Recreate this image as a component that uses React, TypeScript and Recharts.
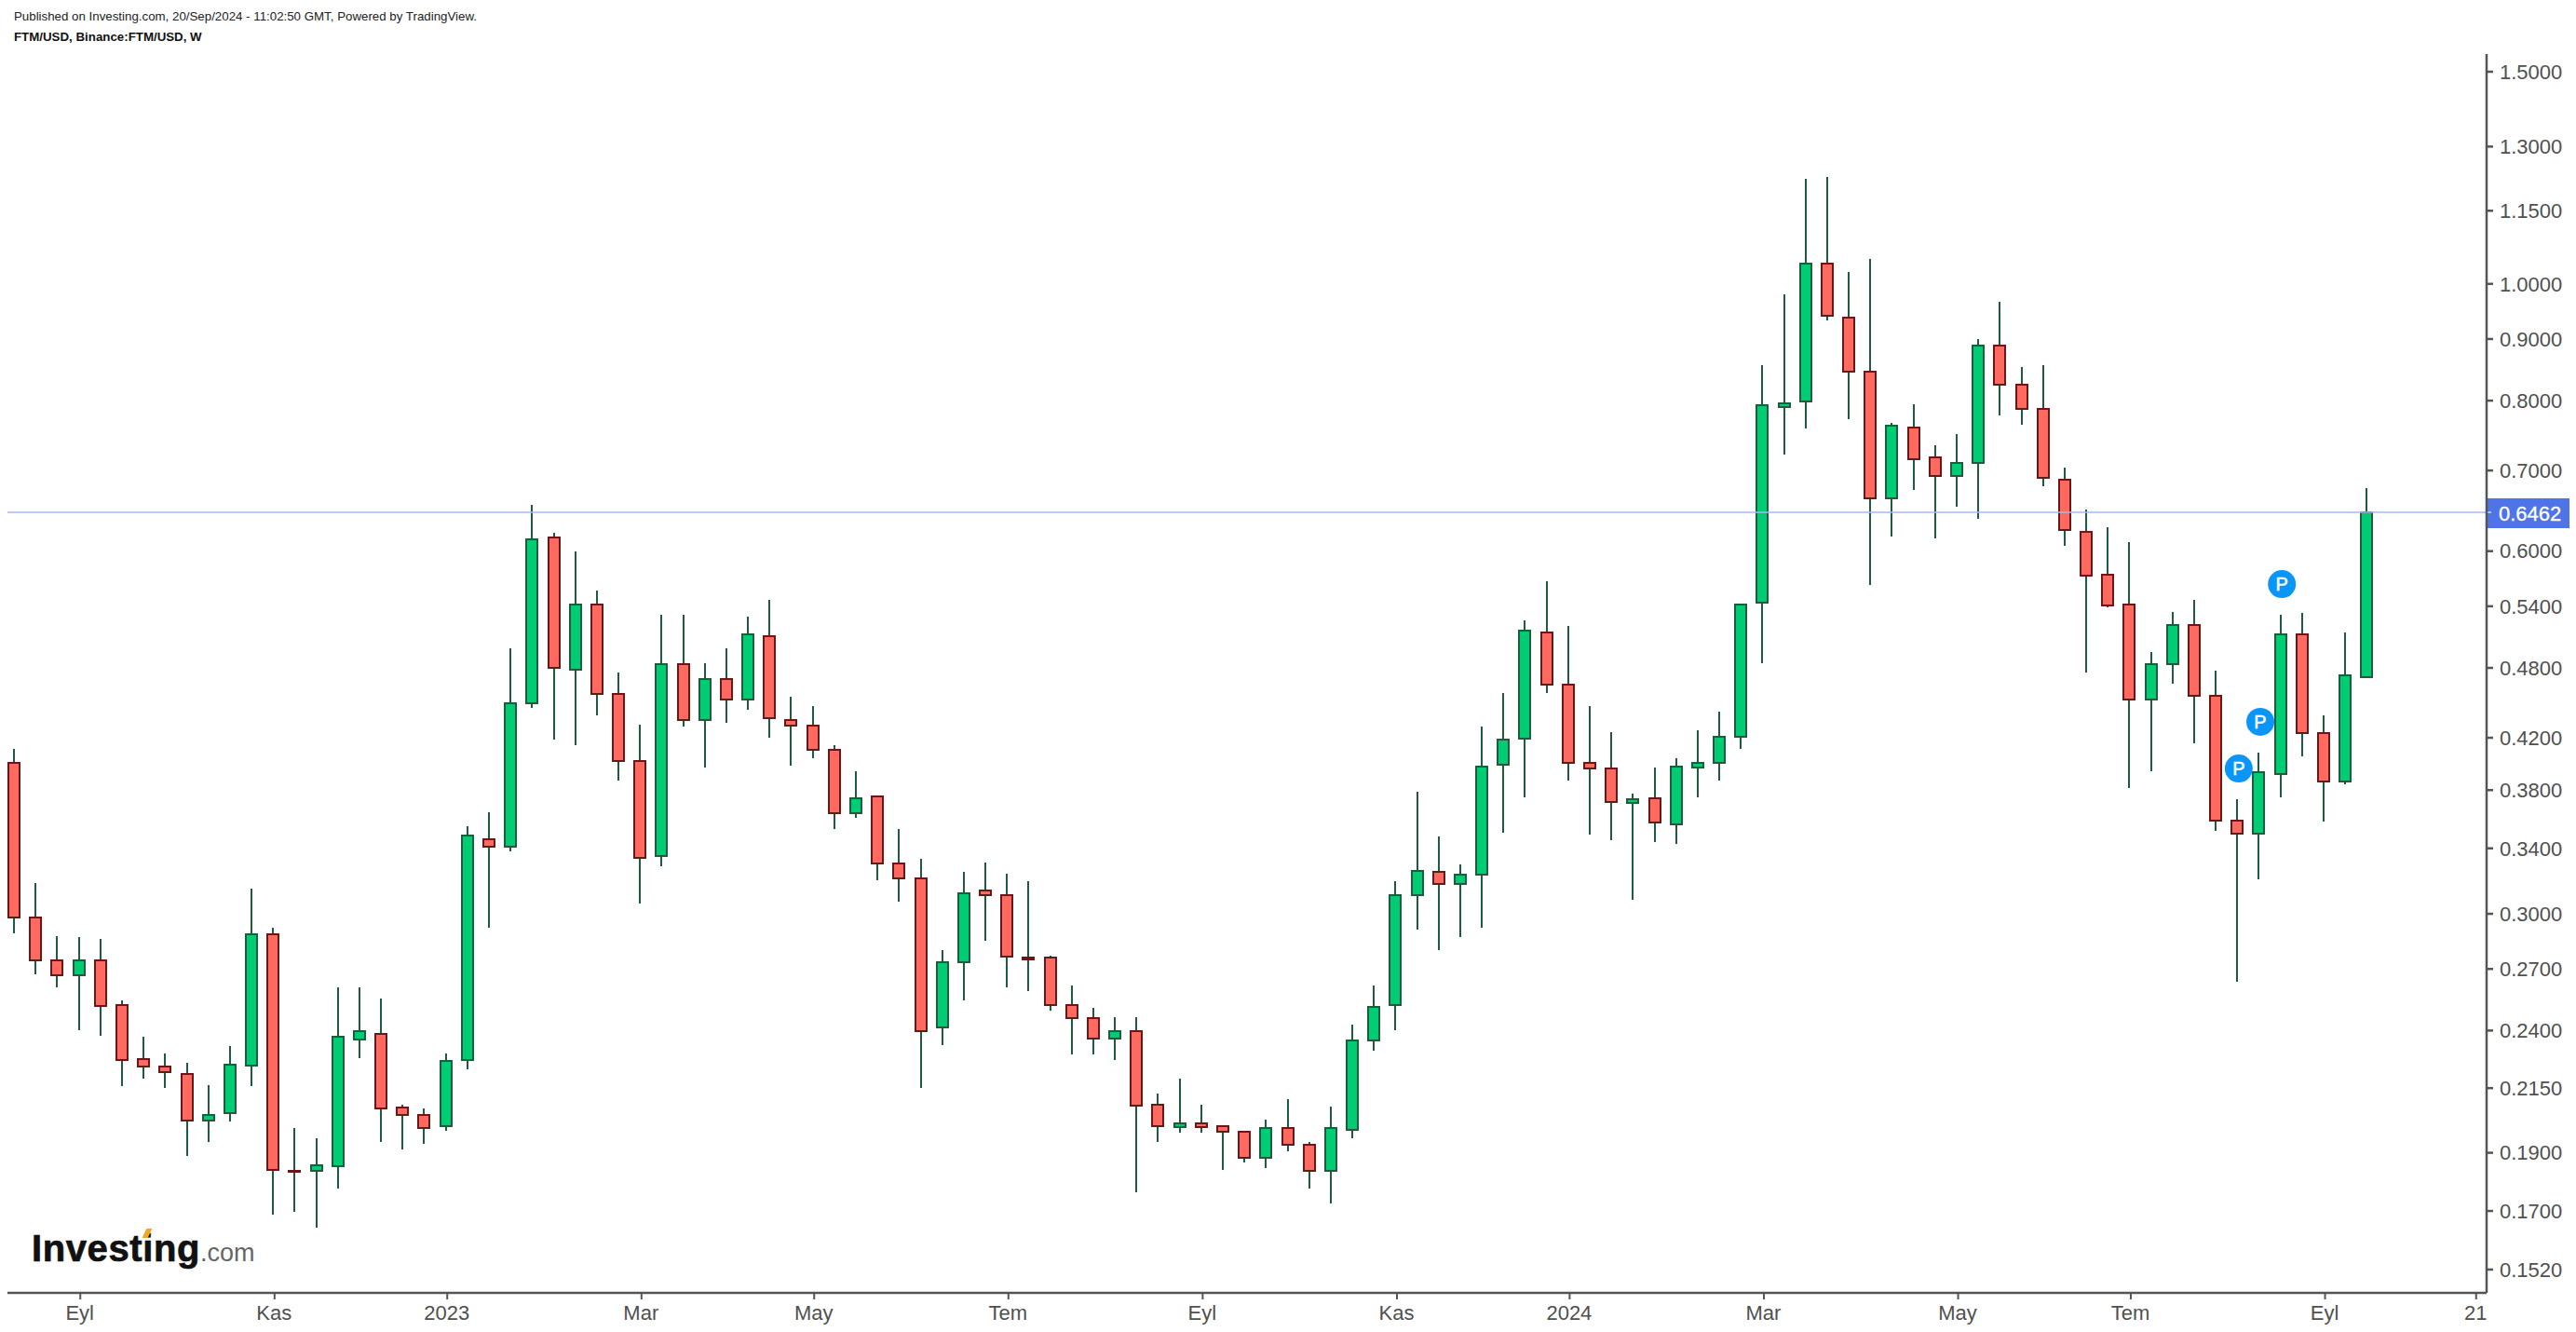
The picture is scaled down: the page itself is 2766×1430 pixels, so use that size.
import { ComposedChart, Bar, Scatter, ReferenceLine, XAxis, YAxis } from 'recharts'

// weekly candles, Aug 2022 - Sep 2024
const open = [
  0.4006, 0.298, 0.2743, 0.2666, 0.2743, 0.252, 0.2272, 0.2241, 0.2208, 0.2019,
  0.2049, 0.2246, 0.2885, 0.1837, 0.1834, 0.1853, 0.2361, 0.2385, 0.2071, 0.2044,
  0.2, 0.227, 0.3461, 0.3408, 0.4484, 0.6163, 0.4779, 0.5421, 0.4569, 0.4019,
  0.3348, 0.4837, 0.4342, 0.4699, 0.4516, 0.5102, 0.4347, 0.43, 0.4106, 0.3634,
  0.3755, 0.3305, 0.3212, 0.2413, 0.2733, 0.3135, 0.311, 0.2758, 0.2757, 0.2521,
  0.2459, 0.2362, 0.2398, 0.2083, 0.1997, 0.2009, 0.2, 0.1979, 0.1881, 0.1993,
  0.193, 0.1834, 0.1984, 0.2354, 0.2518, 0.3107, 0.3248, 0.3174, 0.3231, 0.3987,
  0.419, 0.5139, 0.4651, 0.4005, 0.3963, 0.3711, 0.3744, 0.3557, 0.3969, 0.4001,
  0.4206, 0.5434, 0.7898, 0.7983, 1.0401, 0.938, 0.8462, 0.6634, 0.7603, 0.7182,
  0.6923, 0.7098, 0.8892, 0.8252, 0.7879, 0.6881, 0.6229, 0.5738, 0.5421, 0.4516,
  0.4835, 0.5211, 0.4552, 0.3587, 0.3495, 0.3917, 0.5121, 0.4238, 0.3861, 0.4716,
]
const high = [
  0.4109, 0.3179, 0.2876, 0.2869, 0.2858, 0.2541, 0.2374, 0.2299, 0.2258, 0.2164,
  0.2332, 0.3148, 0.2921, 0.1992, 0.1953, 0.2606, 0.2606, 0.2551, 0.2082, 0.2067,
  0.2299, 0.3548, 0.3643, 0.4983, 0.6555, 0.6214, 0.5996, 0.5565, 0.4758, 0.4306,
  0.5313, 0.5313, 0.4843, 0.4983, 0.5294, 0.5466, 0.4542, 0.4462, 0.4141, 0.3939,
  0.3755, 0.3528, 0.3332, 0.2799, 0.325, 0.3309, 0.3239, 0.3193, 0.277, 0.2616,
  0.2506, 0.2462, 0.2462, 0.2128, 0.2189, 0.2083, 0.2, 0.1979, 0.2024, 0.2105,
  0.194, 0.2075, 0.2427, 0.2616, 0.3193, 0.3788, 0.3478, 0.3297, 0.4291, 0.4575,
  0.5256, 0.5664, 0.52, 0.4462, 0.4245, 0.3775, 0.3968, 0.4039, 0.4261, 0.4415,
  0.5427, 0.8562, 0.9801, 1.2223, 1.2267, 1.0229, 1.0489, 0.7667, 0.7945, 0.7346,
  0.7506, 0.9, 0.9663, 0.8532, 0.8562, 0.7038, 0.6502, 0.6285, 0.6105, 0.4948,
  0.5346, 0.5466, 0.4775, 0.3733, 0.4082, 0.5313, 0.533, 0.4383, 0.5136, 0.6771,
]
const low = [
  0.2892, 0.2672, 0.2607, 0.2402, 0.2376, 0.2159, 0.2189, 0.2151, 0.1889, 0.1939,
  0.2017, 0.2159, 0.1689, 0.1697, 0.1648, 0.1775, 0.2277, 0.1939, 0.1913, 0.1933,
  0.1982, 0.2229, 0.2923, 0.3382, 0.4449, 0.4185, 0.4141, 0.4383, 0.387, 0.306,
  0.3285, 0.4291, 0.3968, 0.4322, 0.4431, 0.42, 0.3982, 0.4039, 0.3528, 0.3604,
  0.32, 0.307, 0.2151, 0.2334, 0.2542, 0.2849, 0.2607, 0.2588, 0.2494, 0.2293,
  0.2293, 0.2269, 0.1762, 0.1939, 0.1975, 0.1975, 0.1839, 0.1865, 0.1845, 0.1906,
  0.1775, 0.1725, 0.1954, 0.231, 0.2403, 0.2909, 0.2799, 0.287, 0.2921, 0.3502,
  0.3748, 0.4575, 0.387, 0.349, 0.3453, 0.3082, 0.3441, 0.3429, 0.3748, 0.387,
  0.4111, 0.4843, 0.722, 0.7585, 0.933, 0.7722, 0.5627, 0.617, 0.6745, 0.6152,
  0.6532, 0.6386, 0.7777, 0.7639, 0.6792, 0.6063, 0.4759, 0.5393, 0.3816, 0.3942,
  0.4657, 0.4157, 0.3518, 0.2636, 0.3204, 0.375, 0.4056, 0.358, 0.3844, 0.4716,
]
const close = [
  0.2978, 0.2743, 0.2666, 0.2743, 0.2516, 0.227, 0.2239, 0.2215, 0.2019, 0.2044,
  0.2248, 0.2885, 0.184, 0.1834, 0.1855, 0.2373, 0.2398, 0.2069, 0.2041, 0.1993,
  0.2263, 0.3484, 0.3408, 0.4489, 0.614, 0.4798, 0.5421, 0.4564, 0.4015, 0.3337,
  0.4837, 0.4342, 0.4699, 0.4516, 0.5121, 0.4358, 0.4296, 0.4102, 0.3634, 0.3744,
  0.3301, 0.3208, 0.2396, 0.2737, 0.3121, 0.3107, 0.2763, 0.2752, 0.2518, 0.2457,
  0.2362, 0.2398, 0.2079, 0.1998, 0.2009, 0.1997, 0.1977, 0.1881, 0.1993, 0.1928,
  0.1834, 0.1993, 0.2356, 0.2512, 0.311, 0.3258, 0.3174, 0.3235, 0.3977, 0.4185,
  0.5157, 0.4645, 0.4001, 0.3958, 0.3713, 0.3733, 0.357, 0.3977, 0.4005, 0.421,
  0.5421, 0.7935, 0.7963, 1.0401, 0.9404, 0.8452, 0.6634, 0.763, 0.7149, 0.6923,
  0.7106, 0.8892, 0.8243, 0.787, 0.6898, 0.6244, 0.573, 0.5411, 0.4516, 0.4837,
  0.5211, 0.4548, 0.3585, 0.3495, 0.3934, 0.5121, 0.4235, 0.3861, 0.4732, 0.6462,
]

const priceTicks = [1.5, 1.3, 1.15, 1, 0.9, 0.8, 0.7, 0.6, 0.54, 0.48, 0.42, 0.38, 0.34, 0.3, 0.27, 0.24, 0.215, 0.19, 0.17, 0.152]
const dateTicks = [3, 12, 20, 29, 37, 46, 55, 64, 72, 81, 90, 98, 107, 114]
const dateLabels = ['Eyl', 'Kas', '2023', 'Mar', 'May', 'Tem', 'Eyl', 'Kas', '2024', 'Mar', 'May', 'Tem', 'Eyl', '21']
const pinWeeks = [103, 104, 105]
const pinPrices = [0.396, 0.433, 0.5634]
const lastPrice = 0.6462

const candles = open.map((o, i) => ({ idx: i, open: o, high: high[i], low: low[i], close: close[i] }))
const pins = pinWeeks.map((w, i) => ({ idx: w, pin: pinPrices[i] }))

const axisColor = '#555555'
const textColor = '#505050'
const font = '"Liberation Sans", Arial, sans-serif'

function Candle(props: any) {
  const { x, y, width, height, payload } = props
  const cx = Math.round(x + width / 2)
  // bar spans low..high on a log axis, so place the body by log ratio
  const span = Math.log(payload.high / payload.low)
  const yAt = (v: number) => y + (height * Math.log(payload.high / v)) / span
  const top = Math.round(yAt(Math.max(payload.open, payload.close)))
  const bottom = Math.round(yAt(Math.min(payload.open, payload.close)))
  const up = payload.close >= payload.open
  return (
    <g shapeRendering="crispEdges">
      <rect x={cx - 1} y={y} width={2} height={height} fill="#1e5c3e" />
      <rect
        x={cx - 6}
        y={top}
        width={12}
        height={Math.max(bottom - top, 1)}
        fill={up ? '#00cc74' : '#ff6a60'}
        stroke={up ? '#1e5c3e' : '#681818'}
        strokeWidth={2}
      />
    </g>
  )
}

function DateTick(props: any) {
  const { x, payload } = props
  const label = dateLabels[dateTicks.indexOf(payload.value)]
  return (
    <g>
      <line x1={x + 2} x2={x + 2} y1={1388} y2={1395} stroke={axisColor} strokeWidth={2} />
      <text x={x + 1.5} y={1417} textAnchor="middle" fontSize={22} fontFamily={font} fill={textColor}>
        {label}
      </text>
    </g>
  )
}

function Pin(props: any) {
  const { cx, cy } = props
  return (
    <g>
      <circle cx={cx + 2} cy={cy} r={15} fill="#0a96f8" />
      <text x={cx + 2} y={cy + 7} textAnchor="middle" fontSize={20} fontFamily={font} fill="#ffffff" stroke="#ffffff" strokeWidth={0.5}>
        P
      </text>
    </g>
  )
}

function PriceTag(props: any) {
  const { viewBox } = props
  const y = viewBox.y
  return (
    <g>
      <rect x={2669} y={y - 15} width={90} height={32} fill="#4f74e8" />
      <line x1={2669} x2={2675} y1={y} y2={y} stroke="#dbe3fa" strokeWidth={1.5} />
      <text x={2683} y={y + 9} fontSize={22} fontFamily={font} fill="#ffffff" stroke="#ffffff" strokeWidth={0.3}>
        {lastPrice.toFixed(4)}
      </text>
    </g>
  )
}

export default function App() {
  return (
    <div style={{ position: 'absolute', left: 0, top: 0, width: 2766, height: 1430, background: '#fff', overflow: 'hidden' }}>
      <div style={{ position: 'absolute', left: 15, top: 10, fontFamily: font, fontSize: 13.3, color: '#222', whiteSpace: 'nowrap' }}>
        Published on Investing.com, 20/Sep/2024 - 11:02:50 GMT, Powered by TradingView.
      </div>
      <div style={{ position: 'absolute', left: 15, top: 32, fontFamily: font, fontSize: 13.3, fontWeight: 700, color: '#111', whiteSpace: 'nowrap' }}>
        FTM/USD, Binance:FTM/USD, W
      </div>

      <ComposedChart width={2766} height={1430} data={candles} margin={{ top: 58, right: 0, bottom: 0, left: 8 }}>
        <XAxis
          type="number"
          dataKey="idx"
          domain={[-0.289, 114.57]}
          ticks={dateTicks}
          interval={0}
          height={42}
          allowDataOverflow
          stroke={axisColor}
          strokeWidth={2.5}
          tickLine={false}
          tick={DateTick}
        />
        <YAxis
          orientation="right"
          scale="log"
          domain={[0.14537, 1.5516]}
          ticks={priceTicks}
          interval={0}
          width={96}
          allowDataOverflow
          stroke={axisColor}
          strokeWidth={2.5}
          tickSize={7}
          tickMargin={7}
          tick={{ fontSize: 22, fontFamily: font, fill: textColor }}
          tickFormatter={(v: number) => v.toFixed(4)}
        />
        <ReferenceLine y={lastPrice} stroke="#a6b9f1" strokeWidth={1.5} label={PriceTag} />
        <Bar dataKey={(d: any) => [d.low, d.high]} barSize={14} shape={Candle} isAnimationActive={false} />
        <Scatter data={pins} dataKey="pin" shape={Pin} isAnimationActive={false} />
      </ComposedChart>

      <div style={{ position: 'absolute', left: 34, top: 1318, fontFamily: font, fontSize: 40, fontWeight: 700, letterSpacing: 0.6, color: '#111', WebkitTextStroke: '0.7px #111', whiteSpace: 'nowrap' }}>
        Investing
        <span style={{ fontSize: 27, fontWeight: 400, letterSpacing: 0, color: '#666', WebkitTextStroke: '0px' }}>.com</span>
      </div>
      <div style={{ position: 'absolute', left: 155, top: 1319, width: 6, height: 10, background: '#f7a51e', transform: 'skewX(-25deg)' }} />
    </div>
  )
}
